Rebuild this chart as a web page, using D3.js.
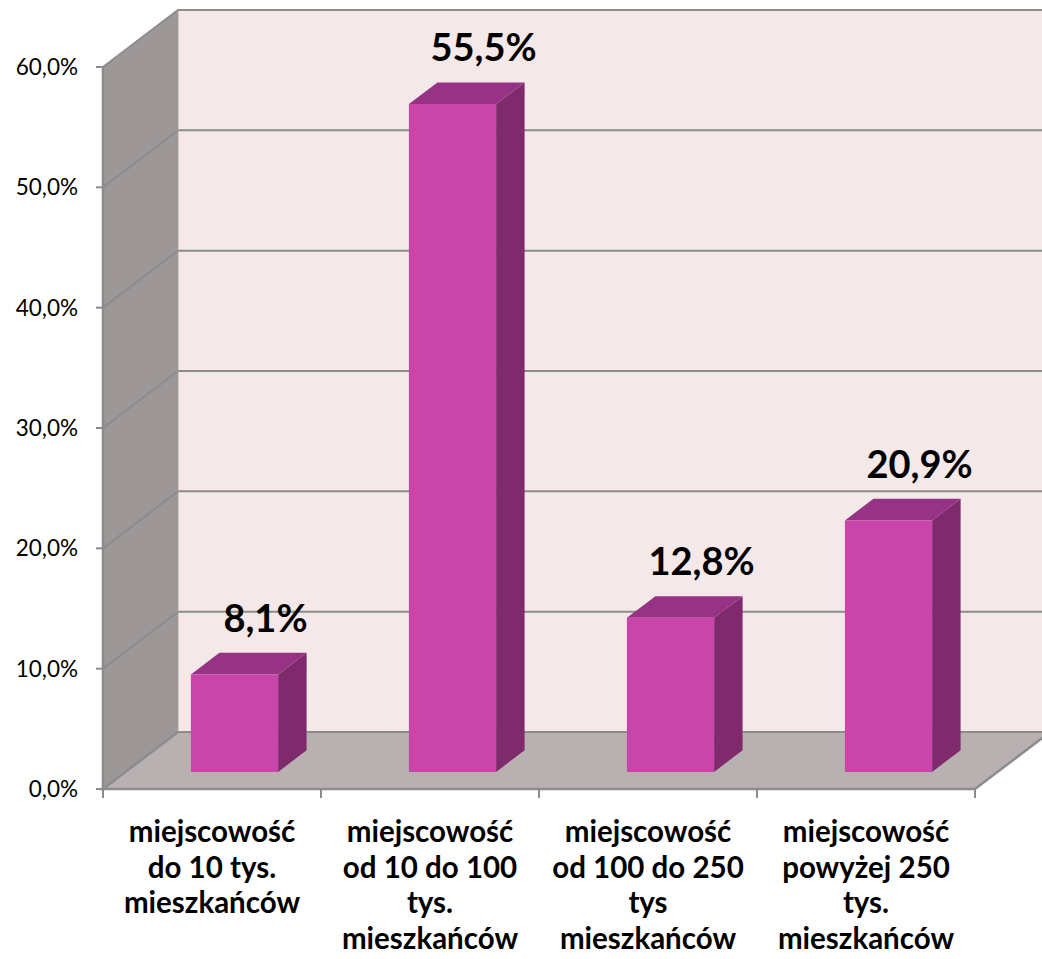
<!DOCTYPE html>
<html>
<head>
<meta charset="utf-8">
<script src="https://cdn.jsdelivr.net/npm/d3@7"></script>
<style>
  html, body { margin: 0; padding: 0; background: #ffffff; }
  svg { display: block; }
  text { font-family: Lato, "Open Sans", "DejaVu Sans", sans-serif; fill: #000; }
</style>
</head>
<body>
<svg id="chart" width="1042" height="959"></svg>
<script>
// Share of respondents by size of place of residence
const categories = [
  ["miejscowość", "do 10 tys.", "mieszkańców"],
  ["miejscowość", "od 10 do 100", "tys.", "mieszkańców"],
  ["miejscowość", "od 100 do 250", "tys", "mieszkańców"],
  ["miejscowość", "powyżej 250", "tys.", "mieszkańców"]
];
const values = [8.1, 55.5, 12.8, 20.9];
const yTicks = [0, 10, 20, 30, 40, 50, 60];

const pl = d3.formatLocale({ decimal: ",", thousands: " ", grouping: [3], currency: ["", " zł"] });
const fmtTick = v => pl.format(".1f")(v) + "%";
const fmtValue = v => pl.format(".1f")(v) + "%";

const svg = d3.select("#chart");

// front plane of the 3D box
const plotLeft = 103, plotRight = 975;
const yScale = d3.scaleLinear().domain([0, 60]).range([789, 67]);
const xScale = d3.scaleBand().domain(d3.range(categories.length)).range([plotLeft, plotRight]).paddingInner(0).paddingOuter(0);

// oblique depth projection
const depthX = 75, depthY = -57;
const proj = (x, v, d) => [x + depthX * d, yScale(v) + depthY * d];

const barFront = 0.30, barBack = 0.68;
const barWidthRatio = 0.40;

const wallFill = "#F4E8E9", sideFill = "#9D9897", floorFill = "#B9B1B1";
const edge = "#8C8C8C";

const poly = pts => "M" + pts.map(p => p.join(",")).join("L") + "Z";

// back wall
svg.append("path")
  .attr("d", poly([proj(plotLeft, 0, 1), proj(plotLeft, 60, 1), proj(plotRight, 60, 1), proj(plotRight, 0, 1)]))
  .attr("fill", wallFill);

// left side wall
svg.append("path")
  .attr("d", poly([proj(plotLeft, 0, 0), proj(plotLeft, 60, 0), proj(plotLeft, 60, 1), proj(plotLeft, 0, 1)]))
  .attr("fill", sideFill);

// gridlines on the side wall and back wall
const grid = svg.append("g").attr("stroke", edge).attr("stroke-width", 2).attr("fill", "none");
yTicks.filter(v => v > 0).forEach(v => {
  grid.append("path").attr("d", "M" + proj(plotLeft, v, 0) + "L" + proj(plotLeft, v, 1) + "L" + proj(plotRight, v, 1));
});
// side wall outer edges
grid.append("path").attr("d", "M" + proj(plotLeft, 0, 0) + "L" + proj(plotLeft, 60, 0)).attr("stroke-width", 2.5);
grid.append("path").attr("d", "M" + proj(plotLeft, 0, 1) + "L" + proj(plotLeft, 60, 1)).attr("stroke", "#A7A2A1").attr("stroke-width", 1);

// floor
svg.append("path")
  .attr("d", poly([proj(plotLeft, 0, 0), proj(plotRight, 0, 0), proj(plotRight, 0, 1), proj(plotLeft, 0, 1)]))
  .attr("fill", floorFill);
svg.append("path")
  .attr("d", "M" + proj(plotLeft, 0, 1) + "L" + proj(plotRight, 0, 1))
  .attr("stroke", edge).attr("stroke-width", 2).attr("fill", "none");
svg.append("path")
  .attr("d", "M" + proj(plotLeft, 0, 1) + "L" + proj(plotLeft, 0, 0) + "L" + proj(plotRight, 0, 0) + "L" + proj(plotRight, 0, 1))
  .attr("stroke", edge).attr("stroke-width", 2.5).attr("fill", "none");

// y axis ticks and labels
const yAxis = svg.append("g");
yTicks.forEach(v => {
  yAxis.append("line").attr("x1", plotLeft - 7).attr("x2", plotLeft).attr("y1", yScale(v)).attr("y2", yScale(v))
    .attr("stroke", edge).attr("stroke-width", 2);
  yAxis.append("text").attr("x", 78).attr("y", yScale(v) + 8).attr("text-anchor", "end")
    .attr("font-size", 22.5).text(fmtTick(v));
});

// x axis ticks at band boundaries
const bounds = xScale.domain().map(i => xScale(i)).concat([plotRight]);
bounds.forEach(x => {
  svg.append("line").attr("x1", x).attr("x2", x).attr("y1", yScale(0)).attr("y2", yScale(0) + 9)
    .attr("stroke", edge).attr("stroke-width", 2);
});

// bars
const bars = svg.append("g");
values.forEach((v, i) => {
  const bw = xScale.bandwidth() * barWidthRatio;
  const x0 = xScale(i) + (xScale.bandwidth() - bw) / 2;
  const x1 = x0 + bw;
  const fbl = proj(x0, 0, barFront), fbr = proj(x1, 0, barFront);
  const ftl = proj(x0, v, barFront), ftr = proj(x1, v, barFront);
  const bbr = proj(x1, 0, barBack), btl = proj(x0, v, barBack), btr = proj(x1, v, barBack);
  bars.append("path").attr("d", poly([fbr, ftr, btr, bbr])).attr("fill", "#7E2A6C");
  bars.append("path").attr("d", poly([ftl, btl, btr, ftr])).attr("fill", "#973384");
  bars.append("path").attr("d", poly([fbl, ftl, ftr, fbr])).attr("fill", "#C945A9");

  // value label above the bar
  svg.append("text")
    .attr("x", (ftl[0] + ftr[0]) / 2 + 31)
    .attr("y", btl[1] - 21)
    .attr("text-anchor", "middle")
    .attr("font-size", 38).attr("font-weight", "bold")
    .text(fmtValue(v));
});

// category labels
categories.forEach((lines, i) => {
  const cx = xScale(i) + xScale.bandwidth() / 2;
  const t = svg.append("text").attr("text-anchor", "middle").attr("font-size", 29.5).attr("font-weight", "bold");
  lines.forEach((ln, k) => {
    t.append("tspan").attr("x", cx).attr("y", 842 + k * 35.5).text(ln);
  });
});
</script>
</body>
</html>
